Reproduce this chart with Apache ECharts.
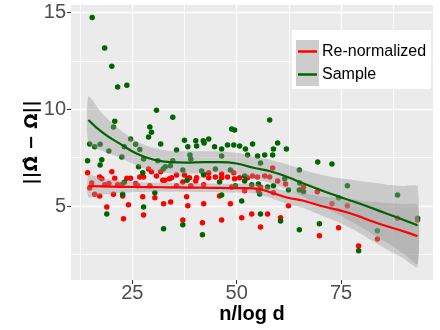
<!DOCTYPE html>
<html>
<head>
<meta charset="utf-8">
<script src="https://cdn.jsdelivr.net/npm/echarts@6/dist/echarts.min.js"></script>
<style>
html, body { margin: 0; padding: 0; background: #fff; }
#chart { width: 440px; height: 330px; }
</style>
</head>
<body>
<div id="chart"></div>
<script>
// scatter points [n/log d, error]
var redPts = [
  [14.3,6.72],[17.2,6.51],[17.7,6.41],[20.1,6.77],[20.8,6.44],[23.7,6.44],[24.6,6.44],[26.8,6.51],[27.7,6.51],
  [28.9,6.92],[29.6,6.77],[30.8,6.55],[31.8,6.77],[32.3,6.34],[32.8,6.34],[33.9,6.41],[34.4,6.46],[35.6,6.61],
  [37.1,6.25],[37.5,6.61],[38.3,6.41],[15.3,6.2],[14.8,5.94],[18.4,6.10],[19.4,6.17],[21.5,6.10],[22.5,6.10],
  [25.8,6.17],[26.3,6.05],[29.2,6.05],[35.6,6.05],[16.0,5.62],[17.2,5.53],[20.5,5.62],[22.7,5.53],[27.5,5.48],
  [30.4,5.43],[32.5,5.12],[34.2,5.22],[38.0,5.48],[38.3,5.02],[18.9,4.96],[24.1,5.07],[27.7,4.55],[22.9,4.35],
  [37.1,4.29],[38.7,6.46],[40.4,6.46],[40.2,6.30],[42.1,6.61],[43.3,6.72],[43.3,6.46],[44.9,6.51],[46.4,6.66],
  [46.4,6.46],[47.8,6.51],[49.5,6.41],[50.7,6.46],[52.6,6.46],[49.3,6.72],[42.1,6.10],[39.0,6.05],[53.8,6.56],
  [55.0,6.51],[56.7,6.56],[57.9,6.51],[59.8,6.30],[55.7,5.99],[55.2,5.79],[51.9,5.79],[48.8,5.99],[58.8,5.69],
  [61.7,6.15],[66.0,5.99],[58.6,6.97],[45.9,5.53],[42.1,5.12],[48.5,5.12],[62.4,5.02],[53.6,4.60],[57.4,4.60],
  [60.5,4.40],[46.4,4.29],[51.2,4.40],[41.8,4.14],[55.7,3.93],[69.3,5.74],[72.8,5.12],[76.5,5.02],[69.8,3.47],
  [74.4,3.88],[83.7,3.31],[79.2,2.95],[93.3,4.28],[88.5,4.37]
];
var greenPts = [
  [15.4,14.74],[18.4,13.16],[20.1,12.22],[21.5,11.15],[23.7,11.24],[30.8,9.95],[34.7,9.59],[20.8,9.38],
  [20.5,9.09],[29.2,9.09],[29.6,8.81],[28.9,8.57],[31.8,8.21],[37.5,8.40],[38.3,8.06],[14.8,8.21],[16.0,8.06],
  [17.3,8.2],[19.4,7.85],[17.7,7.39],[17.3,7.13],[14.3,7.34],[22.5,7.54],[24.6,8.47],[23.1,8.06],[25.8,8.2],
  [26.8,7.92],[27.7,7.44],[31.1,7.34],[32.4,6.92],[32.9,7.03],[34.1,7.08],[34.7,7.34],[38.8,7.64],[37.1,6.86],
  [26.5,7.03],[35.6,7.9],[27.5,6.72],[38.1,6.34],[23.1,6.24],[22.7,5.62],[30.4,5.69],[27.7,4.96],[18.9,4.60],
  [32.5,3.83],[37.1,4.04],[57.9,9.45],[48.8,8.98],[49.5,8.93],[43.3,8.47],[40.2,8.37],[42.0,8.37],[42.2,8.26],
  [40.4,8.11],[44.7,8.06],[46.4,7.95],[47.8,8.16],[49.3,8.16],[50.7,8.11],[52.1,7.95],[53.8,8.21],[52.6,7.64],
  [55.0,7.59],[56.7,7.64],[58.6,7.64],[58.8,7.95],[59.8,8.26],[61.9,7.95],[65.0,6.87],[39.0,7.44],[46.4,7.59],
  [44.9,6.92],[48.5,6.87],[55.7,7.23],[41.6,6.82],[42.1,6.65],[46.4,5.58],[51.2,5.27],[55.7,4.60],[60.5,4.24],
  [65.0,3.78],[41.8,3.52],[45.9,6.25],[51.9,6.30],[49.7,6.05],[55.5,5.63],[55.2,6.15],[57.4,5.99],[58.8,6.05],
  [62.4,5.84],[65.0,5.84],[53.6,6.10],[51.9,6.56],[61.5,6.41],[66.0,5.74],[69.4,7.28],[72.8,7.18],[65.1,6.19],
  [76.5,6.05],[88.5,5.58],[74.4,5.43],[69.8,4.09],[83.7,3.73],[79.2,2.70],[93.3,4.37]
];

// loess fits and confidence bands
var smoothX   = [14.5,18,22,26,30,34,38,42,46,50,54,58,62,66,70,74,78,82,86,90,93.3];
var redFit    = [6.03,6.02,6.00,5.99,5.98,5.97,5.96,5.95,5.94,5.93,5.92,5.72,5.45,5.28,5.02,4.82,4.57,4.25,3.96,3.70,3.45];
var redLow    = [5.47,5.60,5.68,5.73,5.75,5.75,5.74,5.73,5.72,5.70,5.67,5.44,5.13,4.90,4.54,4.20,3.79,3.27,2.76,2.30,1.85];
var redHigh   = [6.59,6.44,6.32,6.25,6.21,6.19,6.18,6.17,6.16,6.16,6.17,6.00,5.77,5.66,5.50,5.44,5.35,5.23,5.16,5.10,5.05];
var greenFit  = [9.45,8.78,8.23,7.72,7.41,7.27,7.25,7.27,7.27,7.20,6.98,6.80,6.52,6.17,5.84,5.53,5.24,4.93,4.61,4.29,4.02];
var greenLow  = [8.23,7.83,7.51,7.10,6.81,6.69,6.67,6.71,6.72,6.65,6.41,6.20,5.88,5.47,5.04,4.60,4.14,3.63,3.11,2.54,2.02];
var greenHigh = [10.67,9.73,8.95,8.34,8.01,7.85,7.83,7.83,7.82,7.75,7.55,7.40,7.16,6.87,6.64,6.46,6.34,6.23,6.11,6.04,6.02];

var xTicks = [25, 50, 75];
var yTicks = [5, 10, 15];
var xMinor = [12.5, 37.5, 62.5, 87.5];
var yMinor = [2.5, 7.5, 12.5];

var FONT = 'Liberation Sans, Arial, sans-serif';

function pairs(xs, ys) {
  return xs.map(function (x, i) { return [x, ys[i]]; });
}

function bandSeries(lo, hi) {
  var rows = smoothX.map(function (x, i) { return [x, lo[i], hi[i]]; });
  return {
    type: 'custom',
    z: 3,
    silent: true,
    data: rows,
    encode: { x: 0, y: [1, 2] },
    renderItem: function (params, api) {
      if (params.dataIndex !== 0) return null;
      var pts = [];
      for (var i = 0; i < rows.length; i++) pts.push(api.coord([rows[i][0], rows[i][2]]));
      for (var j = rows.length - 1; j >= 0; j--) pts.push(api.coord([rows[j][0], rows[j][1]]));
      return { type: 'polygon', shape: { points: pts, smooth: 0.2 }, style: { fill: 'rgba(153,153,153,0.4)' } };
    }
  };
}

var gridLines = [];
xTicks.forEach(function (v) { gridLines.push({ xAxis: v, lineStyle: { width: 1.4 } }); });
yTicks.forEach(function (v) { gridLines.push({ yAxis: v, lineStyle: { width: 1.4 } }); });
xMinor.forEach(function (v) { gridLines.push({ xAxis: v, lineStyle: { width: 0.8 } }); });
yMinor.forEach(function (v) { gridLines.push({ yAxis: v, lineStyle: { width: 0.8 } }); });

var chart = echarts.init(document.getElementById('chart'));
chart.setOption({
  animation: false,
  grid: {
    left: 71, right: 7, top: 5, bottom: 50,
    show: true, backgroundColor: '#EBEBEB', borderWidth: 0
  },
  graphic: [
    { type: 'rect', z: 10, shape: { x: 292, y: 30, width: 139, height: 59 }, style: { fill: '#fff' } },
    { type: 'rect', z: 11, shape: { x: 296, y: 40, width: 23, height: 23 }, style: { fill: '#CDCDCD' } },
    { type: 'rect', z: 11, shape: { x: 296, y: 63, width: 23, height: 23 }, style: { fill: '#CDCDCD' } }
  ],
  legend: {
    z: 20,
    orient: 'vertical',
    left: 298, top: 40,
    padding: 0, itemGap: 0,
    itemWidth: 19, itemHeight: 2.5,
    icon: 'rect',
    data: ['Re-normalized', 'Sample'],
    textStyle: { fontFamily: FONT, fontSize: 16, color: '#000', lineHeight: 23 }
  },
  xAxis: {
    type: 'value', min: 10.33, max: 97,
    name: 'n/log d', nameLocation: 'middle', nameGap: 24, nameMoveOverlap: false,
    nameTextStyle: { fontFamily: FONT, fontSize: 20, fontWeight: 'bold', color: '#000' },
    axisLine: { show: false },
    axisTick: { show: true, length: 4, customValues: xTicks, lineStyle: { color: '#333' } },
    axisLabel: { customValues: xTicks, margin: 3, fontFamily: FONT, fontSize: 20, color: '#4D4D4D' },
    splitLine: { show: false }
  },
  yAxis: {
    type: 'value', min: 1.19, max: 15.38,
    name: '||\u03A9\u0302 \u2212 \u03A9||', nameLocation: 'middle', nameGap: 30, nameRotate: 90,
    nameMoveOverlap: false,
    nameTextStyle: { fontFamily: 'DejaVu Sans', fontSize: 18, fontWeight: 'bold', color: '#000' },
    axisLine: { show: false },
    axisTick: { show: true, length: 4, customValues: yTicks, lineStyle: { color: '#333' } },
    axisLabel: { customValues: yTicks, margin: 5, fontFamily: FONT, fontSize: 20, color: '#4D4D4D' },
    splitLine: { show: false }
  },
  series: [
    {
      type: 'line', z: 1, data: [], silent: true,
      markLine: {
        z: 1, silent: true, symbol: ['none', 'none'], label: { show: false },
        lineStyle: { color: '#fff', type: 'solid' },
        data: gridLines
      }
    },
    { name: 'Re-normalized', type: 'line', z: 4, data: pairs(smoothX, redFit), smooth: true,
      showSymbol: false, color: '#FF0000', lineStyle: { width: 2.2 } },
    { name: 'Sample', type: 'line', z: 4, data: pairs(smoothX, greenFit), smooth: true,
      showSymbol: false, color: '#006400', lineStyle: { width: 2.2 } },
    { name: 'redPoints', type: 'scatter', z: 2, data: redPts, symbolSize: 5.5,
      itemStyle: { color: '#FF0000', opacity: 1 } },
    { name: 'greenPoints', type: 'scatter', z: 2, data: greenPts, symbolSize: 5.5,
      itemStyle: { color: '#006400', opacity: 1 } },
    bandSeries(redLow, redHigh),
    bandSeries(greenLow, greenHigh)
  ]
});
</script>
</body>
</html>
